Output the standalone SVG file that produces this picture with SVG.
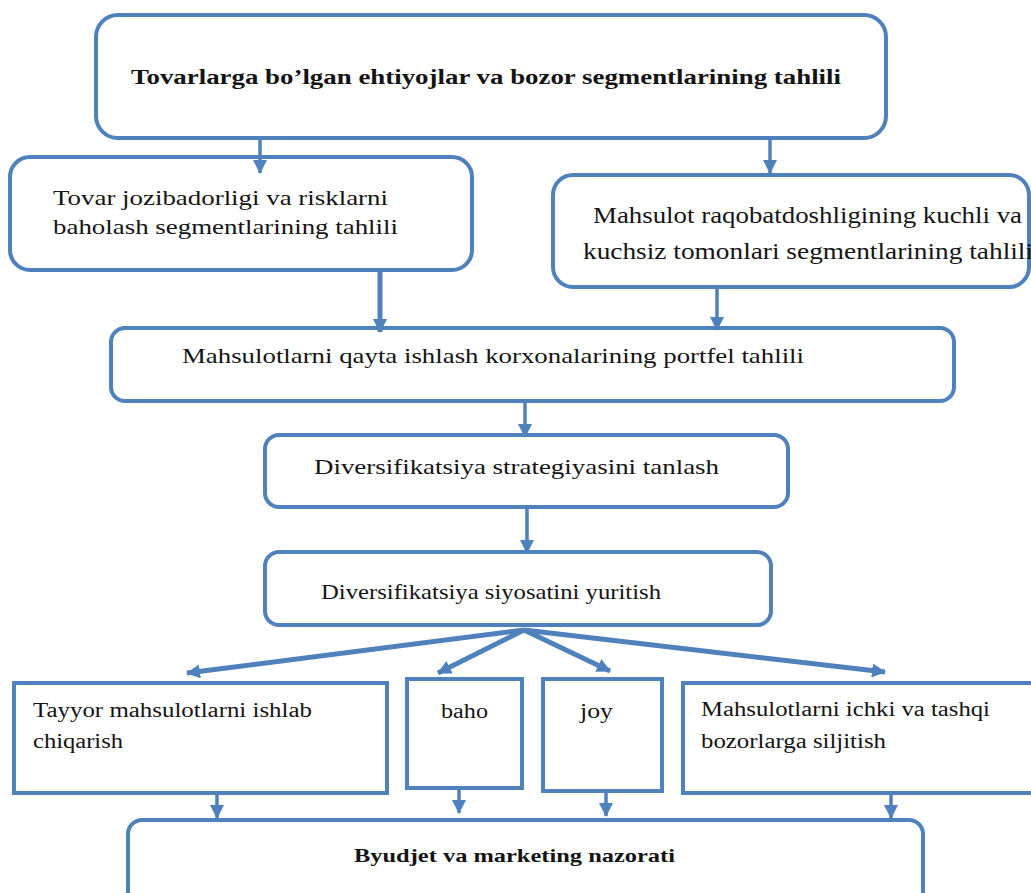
<svg xmlns="http://www.w3.org/2000/svg" width="1031" height="893" viewBox="0 0 1031 893">
<defs>
<style>
.box{fill:#fff;stroke:#4F81BD;stroke-width:4}
.c{stroke:#4F81BD;stroke-width:3.5;fill:none}
.ct{stroke:#4F81BD;stroke-width:5;fill:none}
</style>
<marker id="ah" markerUnits="userSpaceOnUse" markerWidth="14" markerHeight="14" refX="13" refY="7" orient="auto" viewBox="0 0 14 14">
<path d="M0,0 L14,7 L0,14 z" fill="#4F81BD"/>
</marker>
</defs>
<rect width="1031" height="893" fill="#fff"/>
<g font-family="Liberation Serif" fill="#141414">
<g id="n1">
<rect class="box" x="96" y="15" width="790" height="123" rx="22"/>
<text font-family="Liberation Serif" font-weight="bold" x="131" y="84" font-size="20" textLength="710" lengthAdjust="spacingAndGlyphs">Tovarlarga bo’lgan ehtiyojlar va bozor segmentlarining tahlili</text>
</g>
<g id="n2">
<rect class="box" x="10" y="157" width="462" height="113" rx="20"/>
<text font-family="Liberation Serif" x="53" y="205" font-size="22" textLength="335" lengthAdjust="spacingAndGlyphs">Tovar jozibadorligi va risklarni</text>
<text font-family="Liberation Serif" x="53" y="234" font-size="22" textLength="345" lengthAdjust="spacingAndGlyphs">baholash segmentlarining tahlili</text>
</g>
<g id="n3">
<rect class="box" x="553" y="175" width="476" height="112" rx="20"/>
<text font-family="Liberation Serif" x="593" y="223" font-size="23" textLength="429" lengthAdjust="spacingAndGlyphs">Mahsulot raqobatdoshligining kuchli va</text>
<text font-family="Liberation Serif" x="583" y="259" font-size="23" textLength="450" lengthAdjust="spacingAndGlyphs">kuchsiz tomonlari segmentlarining tahlili</text>
</g>
<g id="n4">
<rect class="box" x="111" y="328" width="843" height="73" rx="14"/>
<text font-family="Liberation Serif" x="182" y="363" font-size="22" textLength="622" lengthAdjust="spacingAndGlyphs">Mahsulotlarni qayta ishlash korxonalarining portfel tahlili</text>
</g>
<g id="n5">
<rect class="box" x="265" y="435" width="523" height="72" rx="14"/>
<text font-family="Liberation Serif" x="314" y="474" font-size="22" textLength="405" lengthAdjust="spacingAndGlyphs">Diversifikatsiya strategiyasini tanlash</text>
</g>
<g id="n6">
<rect class="box" x="265" y="552" width="506" height="73" rx="14"/>
<text font-family="Liberation Serif" x="321" y="599" font-size="21" textLength="340" lengthAdjust="spacingAndGlyphs">Diversifikatsiya siyosatini yuritish</text>
</g>
<g id="n7">
<rect class="box" x="14" y="683" width="373" height="110"/>
<text font-family="Liberation Serif" x="33" y="717" font-size="20" textLength="279" lengthAdjust="spacingAndGlyphs">Tayyor mahsulotlarni ishlab</text>
<text font-family="Liberation Serif" x="33" y="748" font-size="20" textLength="90" lengthAdjust="spacingAndGlyphs">chiqarish</text>
</g>
<g id="n8">
<rect class="box" x="407" y="679" width="115" height="109"/>
<text font-family="Liberation Serif" x="441" y="718" font-size="20" textLength="47" lengthAdjust="spacingAndGlyphs">baho</text>
</g>
<g id="n9">
<rect class="box" x="543" y="679" width="119" height="112"/>
<text font-family="Liberation Serif" x="580" y="718" font-size="20" textLength="33" lengthAdjust="spacingAndGlyphs">joy</text>
</g>
<g id="n10">
<rect class="box" x="683" y="683" width="360" height="110"/>
<text font-family="Liberation Serif" x="701" y="716" font-size="20" textLength="289" lengthAdjust="spacingAndGlyphs">Mahsulotlarni ichki va tashqi</text>
<text font-family="Liberation Serif" x="701" y="748" font-size="20" textLength="185" lengthAdjust="spacingAndGlyphs">bozorlarga siljitish</text>
</g>
<g id="n11">
<rect class="box" x="128" y="820" width="795" height="100" rx="14"/>
<text font-family="Liberation Serif" font-weight="bold" x="354" y="862" font-size="19" textLength="321" lengthAdjust="spacingAndGlyphs">Byudjet va marketing nazorati</text>
</g>
</g>
<g id="connectors">
<line class="c" x1="260" y1="139" x2="260" y2="173" marker-end="url(#ah)"/>
<line class="c" x1="770" y1="139" x2="770" y2="173" marker-end="url(#ah)"/>
<line class="ct" x1="380" y1="271" x2="380" y2="332" marker-end="url(#ah)"/>
<line class="c" x1="717" y1="288" x2="717" y2="330" marker-end="url(#ah)"/>
<line class="c" x1="525" y1="402" x2="525" y2="437" marker-end="url(#ah)"/>
<line class="c" x1="527" y1="508" x2="527" y2="553" marker-end="url(#ah)"/>
<line class="ct" x1="524" y1="630" x2="187" y2="673" marker-end="url(#ah)"/>
<line class="ct" x1="524" y1="630" x2="438" y2="673" marker-end="url(#ah)"/>
<line class="ct" x1="524" y1="630" x2="610" y2="671" marker-end="url(#ah)"/>
<line class="ct" x1="524" y1="630" x2="885" y2="672" marker-end="url(#ah)"/>
<line class="c" x1="217" y1="794" x2="217" y2="818" marker-end="url(#ah)"/>
<line class="c" x1="459" y1="789" x2="459" y2="813" marker-end="url(#ah)"/>
<line class="c" x1="606" y1="792" x2="606" y2="816" marker-end="url(#ah)"/>
<line class="c" x1="891" y1="794" x2="891" y2="818" marker-end="url(#ah)"/>
</g>
</svg>
